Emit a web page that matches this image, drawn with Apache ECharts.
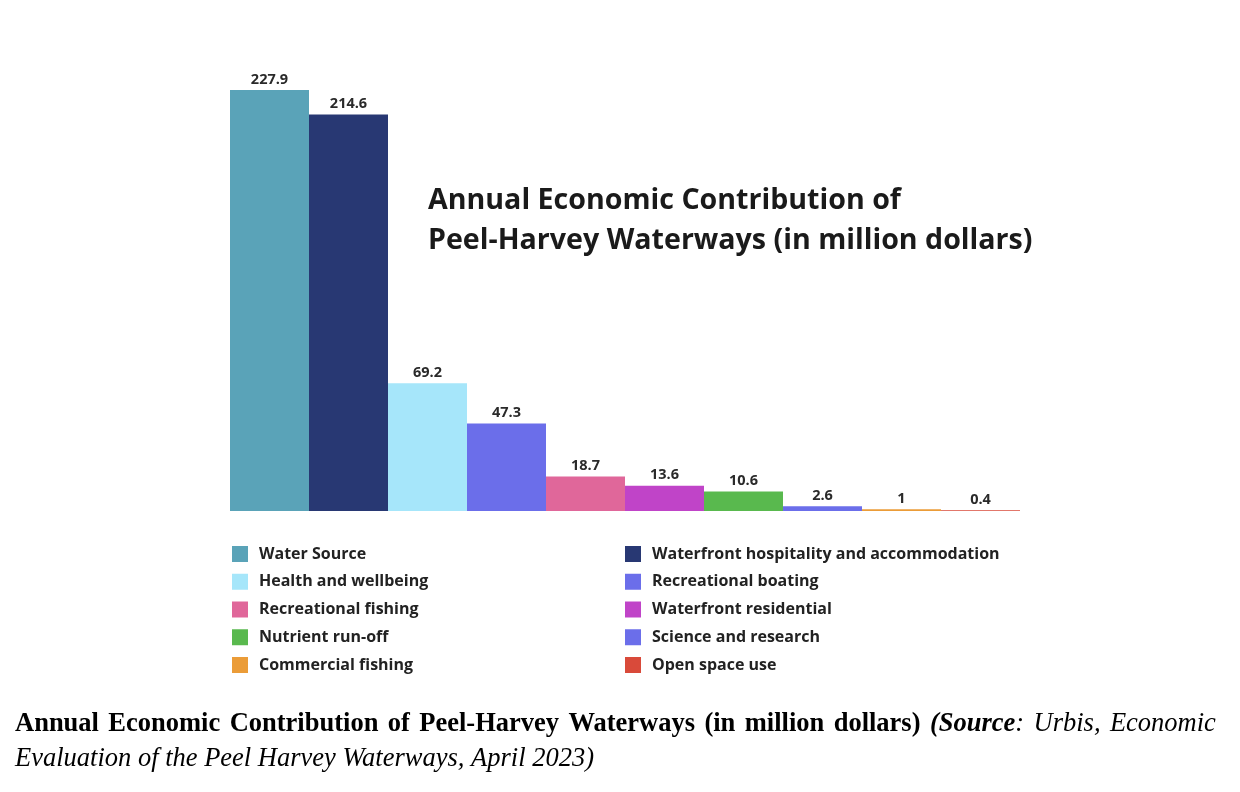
<!DOCTYPE html>
<html>
<head>
<meta charset="utf-8">
<script src="https://cdn.jsdelivr.net/npm/echarts@6/dist/echarts.min.js"></script>
<style>html,body{margin:0;padding:0;background:#fff;}#c{width:1240px;height:792px;}</style>
</head>
<body>
<div id="c"></div>
<script>
const categories = ["Water Source","Waterfront hospitality and accommodation","Health and wellbeing","Recreational boating","Recreational fishing","Waterfront residential","Nutrient run-off","Science and research","Commercial fishing","Open space use"];
const values = [227.9, 214.6, 69.2, 47.3, 18.7, 13.6, 10.6, 2.6, 1, 0.4];
const colors = ["#5aa3b8","#283873","#a6e6fa","#6b6eea","#e0679a","#c044c8","#59b94e","#6b6eea","#eb9c38","#d94a3a"];
const captionLine1 = ["Annual","Economic","Contribution","of","Peel-Harvey","Waterways","(in","million","dollars)"];

const chart = echarts.init(document.getElementById('c'));
const series = categories.map((name, i) => ({
  name: name,
  type: 'bar',
  stack: 'all',
  barWidth: '100%',
  itemStyle: { color: colors[i] },
  label: { show: true, position: 'top', distance: 3, color: '#2a2a2a', fontFamily: 'Open Sans', fontWeight: 'bold', fontSize: 14.5 },
  data: categories.map((c, j) => j === i ? values[i] : '-')
}));
const leftNames = categories.filter((c, i) => i % 2 === 0);
const rightNames = categories.filter((c, i) => i % 2 === 1);
const legendBase = {
  orient: 'vertical', top: 541, itemWidth: 16, itemHeight: 16, itemGap: 11.75,
  icon: 'rect',
  textStyle: { fontFamily: 'Open Sans', fontWeight: 'bold', fontSize: 16, color: '#222', padding: [0,0,0,6] }
};
const sp = '{sp| }';
const line1 = captionLine1.map(w => '{b|' + w + '}').join(sp) + sp + '{bi|(Source}{i|:}' + sp + '{i|Urbis,}' + sp + '{i|Economic}';
chart.setOption({
  animation: false,
  grid: { left: 230, right: 220, top: 86, bottom: 281 },
  xAxis: { type: 'category', data: categories, show: false },
  yAxis: { type: 'value', min: 0, max: 230, show: false },
  legend: [
    Object.assign({}, legendBase, { left: 227, data: leftNames }),
    Object.assign({}, legendBase, { left: 620, data: rightNames })
  ],
  title: {
    text: 'Annual Economic Contribution of\nPeel-Harvey Waterways (in million dollars)',
    left: 423, top: 176,
    textStyle: { fontFamily: 'Open Sans', fontWeight: 'bold', fontSize: 28.6, lineHeight: 40, color: '#1a1a1a' }
  },
  graphic: [{
    type: 'text', left: 15, top: 711,
    style: {
      text: line1 + '\n{i|Evaluation of the Peel Harvey Waterways, April 2023)}',
      rich: {
        b: { fontFamily: 'Liberation Serif', fontWeight: 'bold', fontSize: 26.5, lineHeight: 35, fill: '#000' },
        bi: { fontFamily: 'Liberation Serif', fontWeight: 'bold', fontStyle: 'italic', fontSize: 26.5, lineHeight: 35, fill: '#000' },
        i: { fontFamily: 'Liberation Serif', fontStyle: 'italic', fontSize: 26.5, lineHeight: 35, fill: '#000' },
        sp: { fontFamily: 'Liberation Serif', fontSize: 26.5, lineHeight: 35, width: 9.4 }
      }
    }
  }],
  series: series
});
</script>
</body>
</html>
